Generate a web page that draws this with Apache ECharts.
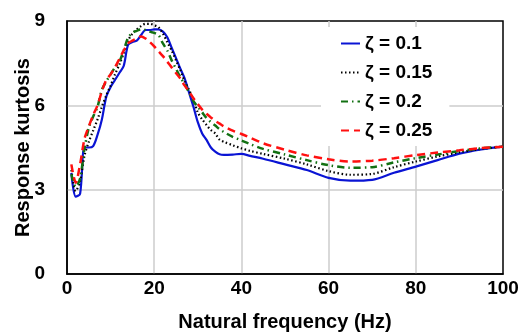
<!DOCTYPE html>
<html>
<head>
<meta charset="utf-8">
<script src="https://cdn.jsdelivr.net/npm/echarts@6.0.0/dist/echarts.min.js"></script>
<style>
html,body{margin:0;padding:0;background:#fff;}
#chart{width:521px;height:333px;}
</style>
</head>
<body>
<div id="chart"></div>
<script>
var freq = [1,2,3,4,5,6,7,8,9,10,11,12,13,14,15,16,17,18,19,20,21,22,23,24,25,26,27,28,29,30,31,32,33,34,35,36,38,40,42,45,50,55,60,65,70,75,80,85,90,95,100];
var zeta010 = [3.6,2.75,2.85,4.5,4.5,4.55,4.95,5.5,6.3,6.65,6.9,7.15,7.4,8.15,8.25,8.3,8.5,8.68,8.68,8.7,8.7,8.62,8.42,8.05,7.68,7.3,6.95,6.45,5.95,5.4,5.0,4.77,4.5,4.35,4.26,4.24,4.25,4.27,4.2,4.1,3.9,3.7,3.42,3.32,3.35,3.6,3.82,4.05,4.28,4.43,4.53];
var zeta015 = [3.7,2.95,3.3,4.2,4.7,5.1,5.5,5.95,6.35,6.7,7.1,7.45,7.85,8.3,8.55,8.7,8.82,8.9,8.9,8.85,8.78,8.55,8.25,7.95,7.6,7.25,6.85,6.55,6.2,5.75,5.5,5.3,5.12,5.0,4.78,4.7,4.58,4.47,4.38,4.27,4.1,3.9,3.66,3.53,3.56,3.8,4.0,4.18,4.33,4.45,4.53];
var zeta020 = [3.55,3.1,3.4,4.45,5.2,5.6,5.95,6.55,6.85,7.1,7.35,7.55,7.95,8.4,8.58,8.65,8.7,8.68,8.62,8.58,8.5,8.2,7.95,7.6,7.3,7.0,6.75,6.45,6.15,5.95,5.75,5.55,5.4,5.28,5.15,5.05,4.88,4.75,4.62,4.45,4.25,4.05,3.87,3.78,3.8,3.97,4.12,4.25,4.37,4.47,4.53];
var zeta025 = [3.9,3.25,3.9,4.8,5.25,5.65,6.0,6.5,6.9,7.1,7.35,7.65,7.95,8.2,8.3,8.38,8.45,8.38,8.25,8.1,7.92,7.75,7.55,7.35,7.15,6.95,6.7,6.5,6.25,6.05,5.85,5.7,5.57,5.45,5.35,5.25,5.1,4.98,4.85,4.65,4.42,4.22,4.08,4.0,4.03,4.12,4.23,4.32,4.4,4.48,4.53];
var seriesNames = ['ζ = 0.1','ζ = 0.15','ζ = 0.2','ζ = 0.25'];
var xTicks = [0,20,40,60,80,100];
var yTicks = [0,3,6,9];

var FONT = '"Liberation Sans", Arial, sans-serif';
function pairs(arr){ return freq.map(function(f,i){ return [f, arr[i]]; }); }

var styles = [
  {color:'#0a14d4', width:2.2, type:'solid'},
  {color:'#000000', width:2.2, type:[1.5,2.5]},
  {color:'#127012', width:2.5, type:[7,4,1.5,4]},
  {color:'#ff1010', width:2.5, type:[8,5]}
];
var datasets = [zeta010, zeta015, zeta020, zeta025];

var chart = echarts.init(document.getElementById('chart'), null, {renderer:'canvas'});
chart.setOption({
  animation:false,
  backgroundColor:'#fff',
  grid:{left:67, right:18, top:21, bottom:59, containLabel:false, outerBoundsMode:'none',
        show:true, borderColor:'#000', borderWidth:1.5, backgroundColor:'transparent'},
  legend:{
    show:true,
    orient:'vertical', left:321, top:27,
    padding:[7,17,6,19],
    backgroundColor:'#fff',
    itemWidth:19, itemHeight:14, itemGap:10,
    itemStyle:{opacity:0},
    textStyle:{fontFamily:FONT, fontWeight:'bold', fontSize:19, color:'#000'},
    data:seriesNames
  },
  xAxis:{
    type:'value', min:xTicks[0], max:xTicks[xTicks.length-1], interval:20,
    name:'Natural frequency (Hz)', nameLocation:'middle', nameGap:38, nameMoveOverlap:false,
    nameTextStyle:{fontFamily:FONT, fontWeight:'bold', fontSize:20, color:'#000'},
    axisLine:{show:true, lineStyle:{color:'#000', width:1.5}}, axisTick:{show:false},
    axisLabel:{fontFamily:FONT, fontWeight:'bold', fontSize:19, color:'#000', margin:5},
    splitLine:{show:true, showMinLine:false, showMaxLine:false, lineStyle:{color:'#cccccc', width:1.5}}
  },
  yAxis:{
    type:'value', min:yTicks[0], max:yTicks[yTicks.length-1], interval:3,
    name:'Response kurtosis', nameLocation:'middle', nameGap:34, nameMoveOverlap:false,
    nameTextStyle:{fontFamily:FONT, fontWeight:'bold', fontSize:20, color:'#000'},
    axisLine:{show:true, lineStyle:{color:'#000', width:1.5}}, axisTick:{show:false},
    axisLabel:{fontFamily:FONT, fontWeight:'bold', fontSize:19, color:'#000', margin:22},
    splitLine:{show:true, showMinLine:false, showMaxLine:false, lineStyle:{color:'#cccccc', width:1.5}}
  },
  series:datasets.map(function(d,i){
    return {
      name:seriesNames[i], type:'line', data:pairs(d), smooth:0.3,
      showSymbol:false, symbol:'none',
      lineStyle:{color:styles[i].color, width:styles[i].width, type:styles[i].type},
      itemStyle:{color:styles[i].color}
    };
  })
});
</script>
</body>
</html>
